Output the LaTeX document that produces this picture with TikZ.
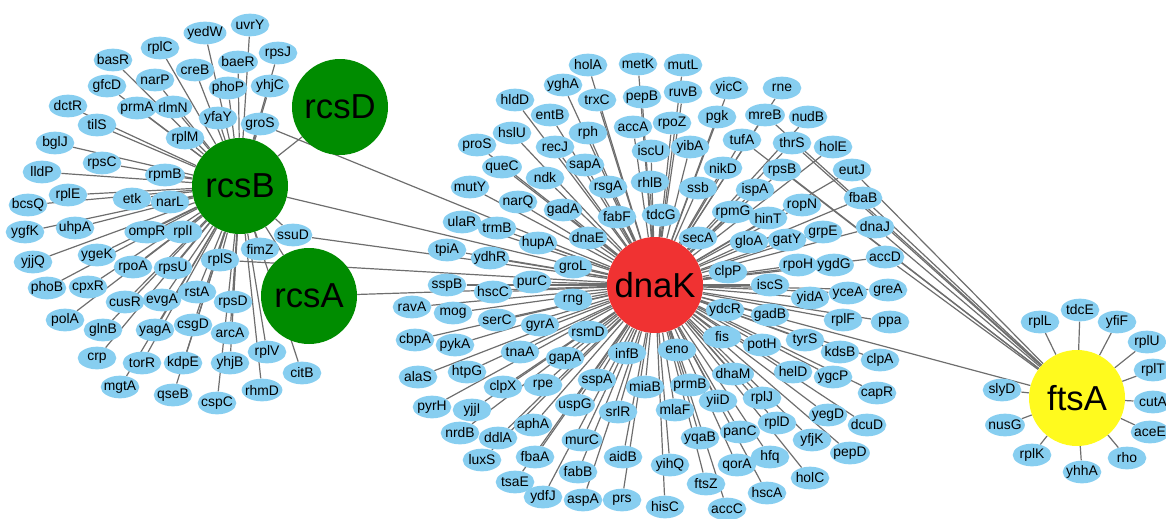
\documentclass[tikz,border=0pt]{standalone}
\usepackage{fontspec}
\setmainfont{Liberation Sans}
\usetikzlibrary{shapes.geometric}
\definecolor{nodeblue}{RGB}{135,206,240}
\definecolor{hubgreen}{RGB}{0,140,0}
\definecolor{hubred}{RGB}{240,50,50}
\definecolor{hubyellow}{RGB}{255,250,30}
\definecolor{linkgray}{RGB}{110,110,110}
\pgfdeclarelayer{bg}
\pgfsetlayers{bg,main}
\begin{document}
\begin{tikzpicture}[x=0.75pt,y=-0.75pt,
  sn/.style={ellipse, fill=nodeblue, minimum width=29pt, minimum height=17pt, inner xsep=-1.9pt, inner ysep=-2pt, font=\fontsize{10.4}{12}\selectfont},
  hub/.style={circle, minimum size=72pt, inner sep=0pt, font=\fontsize{26}{30}\selectfont},
  lnk/.style={draw=linkgray, line width=0.9pt}]
\useasboundingbox (0,0) rectangle (1166,518);
\clip (0,0) rectangle (1166,518);
% hubs
\node[hub, fill=hubgreen] (rcsB) at (240,186) {rcsB};
\node[hub, fill=hubgreen] (rcsD) at (340,107) {rcsD};
\node[hub, fill=hubgreen] (rcsA) at (309,296) {rcsA};
\node[hub, fill=hubred] (dnaK) at (655,285) {dnaK};
\node[hub, fill=hubyellow] (ftsA) at (1077,398) {ftsA};
% rcsB cluster
\foreach \n/\x/\y in {yedW/205/33, uvrY/250/25, rplC/160/48, basR/113/60, creB/195/70, baeR/238/62, rpsJ/278/53, narP/155/80, gfcD/107/86, phoP/228/88, yhjC/270/86, dctR/68/106, prmA/137/108, rlmN/173/107, tilS/97/125, yfaY/218/118, groS/260/124, rplM/185/138, bglJ/55/143, rpsC/102/163, lldP/42/172, rpmB/165/175, rplE/68/195, etk/132/199, narL/170/202, bcsQ/28/205, ygfK/25/232, uhpA/75/228, ompR/147/232, rplI/183/232, ssuD/293/235, fimZ/260/249, ygeK/97/255, yjjQ/33/262, rpoA/133/267, rpsU/173/268, rplS/220/260, phoB/47/288, cpxR/88/287, cusR/125/302, evgA/162/300, rstA/197/292, rpsD/233/302, polA/65/320, glnB/103/330, yagA/155/330, csgD/193/325, arcA/230/333, rplV/267/352, crp/97/358, torR/142/363, kdpE/183/363, yhjB/230/363, citB/302/373, mgtA/120/387, qseB/173/395, rhmD/262/390, cspC/217/403}
  \node[sn] (\n) at (\x,\y) {\n};
% dnaK cluster
\foreach \n/\x/\y in {holA/588/65, metK/638/64, mutL/683/65, yghA/563/85, trxC/597/100, pepB/642/97, ruvB/683/92, yicC/729/88, rne/782/88, hldD/515/100, entB/550/115, accA/633/127, rpoZ/672/123, pgk/717/117, mreB/765/115, nudB/808/117, hslU/512/133, rph/588/133, proS/477/145, recJ/555/147, sapA/585/165, iscU/651/151, yibA/690/147, tufA/742/140, thrS/792/143, holE/833/147, queC/502/167, ndk/545/178, rsgA/608/187, rhlB/650/182, mutY/470/187, nikD/723/168, rpsB/782/170, eutJ/852/170, ssb/698/188, ispA/755/190, fbaB/863/198, narQ/518/202, gadA/563/210, fabF/617/217, tdcG/661/215, rpmG/733/212, ropN/802/205, ulaR/462/222, trmB/497/228, hinT/768/218, dnaJ/875/227, grpE/823/232, hupA/538/243, dnaE/588/238, secA/698/238, gloA/749/242, gatY/787/240, tpiA/447/250, ydhR/490/258, groL/573/267, clpP/728/272, rpoH/798/265, ygdG/834/265, accD/885/257, sspB/447/285, hscC/493/292, purC/532/282, iscS/770/285, yidA/810/298, yceA/848/293, greA/888/290, rng/573/300, ravA/412/307, mog/453/313, serC/497/320, gyrA/540/325, ydcR/725/310, gadB/770/315, rplF/843/320, ppa/890/322, rsmD/588/332, cbpA/415/340, pykA/455/345, tnaA/520/352, gapA/565/358, infB/627/353, eno/677/350, fis/722/337, potH/762/345, tyrS/805/340, kdsB/840/352, clpA/880/360, alaS/418/377, htpG/467/372, clpX/503/387, rpe/543/385, sspA/597/380, miaB/645/387, prmB/690/385, dhaM/733/374, helD/793/372, ygcP/833/377, capR/877/393, pyrH/432/407, yjjI/472/410, uspG/575/405, srlR/618/412, mlaF/675/410, yiiD/718/401, rplJ/762/398, yegD/828/415, dcuD/867/425, nrdB/460/433, ddlA/498/438, aphA/533/425, murC/582/440, yqaB/700/438, panC/740/432, rplD/777/423, yfjK/812/440, pepD/850/453, luxS/482/460, fbaA/535/457, aidB/623/457, yihQ/670/465, qorA/737/465, hfq/770/457, fabB/578/472, tsaE/515/482, holC/810/478, ftsZ/706/484, hscA/767/493, ydfJ/543/497, aspA/583/500, prs/622/500, hisC/665/507, accC/727/509}
  \node[sn] (\n) at (\x,\y) {\n};
% ftsA cluster
\foreach \n/\x/\y in {tdcE/1080/310, rplL/1040/322, yfiF/1117/322, rplU/1147/342, rplT/1153/370, slyD/1002/390, cutA/1153/402, nusG/1005/425, aceE/1150/432, rplK/1032/455, rho/1127/458, yhhA/1082/472}
  \node[sn] (\n) at (\x,\y) {\n};
\begin{pgfonlayer}{bg}
\foreach \n in {yedW, uvrY, rplC, basR, creB, baeR, rpsJ, narP, gfcD, phoP, yhjC, dctR, prmA, rlmN, tilS, yfaY, groS, rplM, bglJ, rpsC, lldP, rpmB, rplE, etk, narL, bcsQ, ygfK, uhpA, ompR, rplI, ssuD, fimZ, ygeK, yjjQ, rpoA, rpsU, rplS, phoB, cpxR, cusR, evgA, rstA, rpsD, polA, glnB, yagA, csgD, arcA, rplV, crp, torR, kdpE, yhjB, citB, mgtA, qseB, rhmD, cspC, rcsD, rcsA, dnaK}
  \draw[lnk] (rcsB) -- (\n);
\foreach \n in {holA, metK, mutL, yghA, trxC, pepB, ruvB, yicC, rne, hldD, entB, accA, rpoZ, pgk, mreB, nudB, hslU, rph, proS, recJ, sapA, iscU, yibA, tufA, thrS, holE, queC, ndk, rsgA, rhlB, mutY, nikD, rpsB, eutJ, ssb, ispA, fbaB, narQ, gadA, fabF, tdcG, rpmG, ropN, ulaR, trmB, hinT, dnaJ, grpE, hupA, dnaE, secA, gloA, gatY, tpiA, ydhR, groL, clpP, rpoH, ygdG, accD, sspB, hscC, purC, iscS, yidA, yceA, greA, rng, ravA, mog, serC, gyrA, ydcR, gadB, rplF, ppa, rsmD, cbpA, pykA, tnaA, gapA, infB, eno, fis, potH, tyrS, kdsB, clpA, alaS, htpG, clpX, rpe, sspA, miaB, prmB, dhaM, helD, ygcP, capR, pyrH, yjjI, uspG, srlR, mlaF, yiiD, rplJ, yegD, dcuD, nrdB, ddlA, aphA, murC, yqaB, panC, rplD, yfjK, pepD, luxS, fbaA, aidB, yihQ, qorA, hfq, fabB, tsaE, holC, ftsZ, hscA, ydfJ, aspA, prs, hisC, accC, rcsA, groS, ssuD, rplS, ftsA}
  \draw[lnk] (dnaK) -- (\n);
\foreach \n in {tdcE, rplL, yfiF, rplU, rplT, slyD, cutA, nusG, aceE, rplK, rho, yhhA, mreB, tufA, thrS, rpsB, eutJ, fbaB, dnaJ, accD}
  \draw[lnk] (ftsA) -- (\n);
\end{pgfonlayer}
\end{tikzpicture}
\end{document}
